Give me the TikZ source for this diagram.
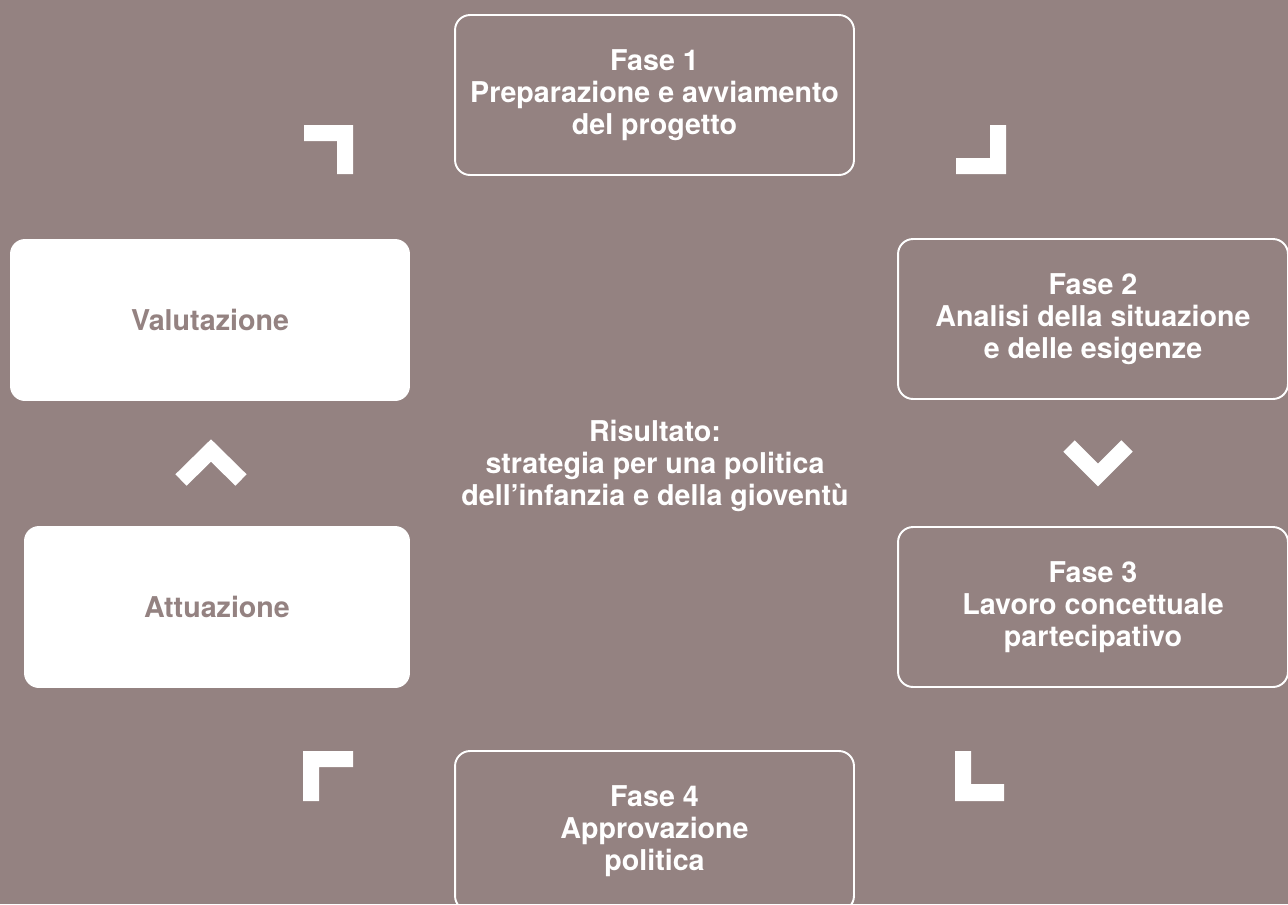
\documentclass[tikz,border=0pt]{standalone}
\usepackage{fontspec}
\setmainfont{TeX Gyre Heros}
\usetikzlibrary{positioning}
\definecolor{bgbrown}{RGB}{148,130,129}

\begin{document}
\begin{tikzpicture}[x=0.02cm, y=-0.02cm,
    every node/.style={font=\fontsize{16.3}{18.1}\selectfont\bfseries, align=center},
    phase/.style={draw=white, line width=1.1pt, rounded corners=0.3cm, text=white,
      minimum width=7.98cm, minimum height=3.2cm},
    stage/.style={fill=white, rounded corners=0.3cm, text=bgbrown,
      minimum height=3.24cm},
    chevron/.style={draw=white, line width=0.32cm, miter limit=10}]
  \useasboundingbox (0,0) rectangle (1288,904);
  \clip (0,0) rectangle (1288,904);
  \fill[bgbrown] (0,0) rectangle (1288,904);

  % phases
  \node[phase] (F1) at (654.5,95) {Fase 1\\Preparazione e avviamento\\del progetto};
  \node[phase, minimum width=7.8cm] (F2) at (1093,319) {Fase 2\\Analisi della situazione\\e delle esigenze};
  \node[phase, minimum width=7.8cm] (F3) at (1093,607) {Fase 3\\Lavoro concettuale\\partecipativo};
  \node[phase] (F4) at (654.5,831) {Fase 4\\Approvazione\\politica};
  \node[stage, minimum width=8cm] (V) at (210,320) {Valutazione};
  \node[stage, minimum width=7.72cm] (A) at (217,607) {Attuazione};
  \node[text=white] (R) at (655,466) {Risultato:\\strategia per una politica\\dell’infanzia e della gioventù};

  % corner marks
  \fill[white] (304,125) -- (353,125) -- (353,174) -- (337,174) -- (337,141) -- (304,141) -- cycle;
  \fill[white] (990,125) -- (1006,125) -- (1006,174) -- (956,174) -- (956,158) -- (990,158) -- cycle;
  \fill[white] (303,751) -- (353,751) -- (353,767) -- (319,767) -- (319,801) -- (303,801) -- cycle;
  \fill[white] (955,751) -- (971,751) -- (971,784) -- (1004,784) -- (1004,801) -- (955,801) -- cycle;

  % chevrons
  \draw[chevron] (181,480) -- (211,450.5) -- (241,480);
  \draw[chevron] (1069,446) -- (1098,475) -- (1127,446);
\end{tikzpicture}
\end{document}
